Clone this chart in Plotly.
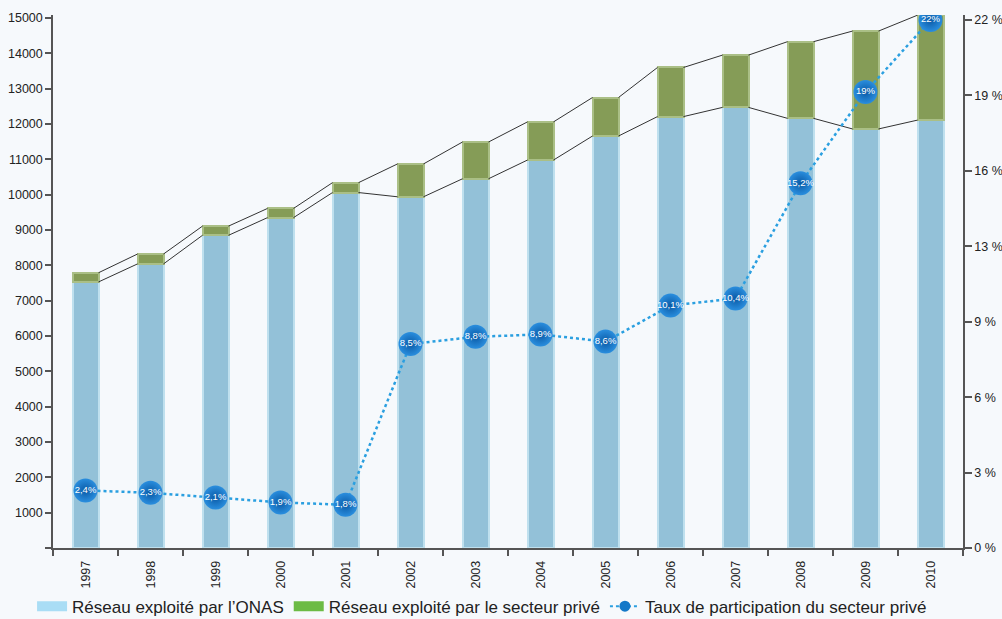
import plotly.graph_objects as go

years = ["1997", "1998", "1999", "2000", "2001", "2002", "2003", "2004",
         "2005", "2006", "2007", "2008", "2009", "2010"]
onas = [7530, 8040, 8850, 9350, 10060, 9940, 10450, 10980, 11660, 12210,
        12470, 12160, 11860, 12110]
prive = [260, 280, 260, 260, 280, 930, 1040, 1080, 1090, 1390, 1480, 2170,
         2770, 2970]
rates = [2.4, 2.3, 2.1, 1.9, 1.8, 8.5, 8.8, 8.9, 8.6, 10.1, 10.4, 15.2, 19, 22]
left_ticks = list(range(0, 15001, 1000))
right_max = 22
right_nticks = 7

name_onas = "Réseau exploité par l\u2019ONAS"
name_prive = "Réseau exploité par le secteur privé"
name_taux = "Taux de participation du secteur privé"

FONT = "Liberation Sans"
BAR_W = 0.4
xs = list(range(len(years)))
totals = [a + b for a, b in zip(onas, prive)]
rate_labels = [f"{r:g}".replace(".", ",") + "%" for r in rates]

def connector(vals):
    cx, cy = [], []
    for i in range(len(vals) - 1):
        cx += [xs[i] + BAR_W / 2, xs[i + 1] - BAR_W / 2, None]
        cy += [vals[i], vals[i + 1], None]
    return cx, cy

fig = go.Figure()

# legend-only entries
fig.add_trace(go.Scatter(x=[None], y=[None], mode="lines", name=name_onas,
                         line=dict(color="#a9ddf5", width=14)))
fig.add_trace(go.Scatter(x=[None], y=[None], mode="lines", name=name_prive,
                         line=dict(color="#6cbb45", width=14)))
fig.add_trace(go.Scatter(x=[None], y=[None], mode="lines+markers", name=name_taux,
                         line=dict(color="#2a9fe0", width=2, dash="dot"),
                         marker=dict(color="#1478c8", size=11)))

fig.add_trace(go.Bar(x=xs, y=onas, width=BAR_W, showlegend=False, name=name_onas,
                     marker=dict(color="#93c1d8", line=dict(color="#bfe0ee", width=2))))
fig.add_trace(go.Bar(x=xs, y=prive, width=BAR_W, showlegend=False, name=name_prive,
                     marker=dict(color="#859c57", line=dict(color="#aabf86", width=2))))

cx, cy = connector(totals)
fig.add_trace(go.Scatter(x=cx, y=cy, mode="lines", showlegend=False,
                         line=dict(color="#333333", width=1), hoverinfo="skip"))
cx, cy = connector(onas)
fig.add_trace(go.Scatter(x=cx, y=cy, mode="lines", showlegend=False,
                         line=dict(color="#333333", width=1), hoverinfo="skip"))

fig.add_trace(go.Scatter(x=xs, y=rates, yaxis="y2", mode="lines+markers+text",
                         showlegend=False, name=name_taux,
                         text=rate_labels, textposition="middle center",
                         textfont=dict(family=FONT, size=9.5, color="white"),
                         line=dict(color="#2a9fe0", width=2.5, dash="dot"),
                         marker=dict(color="#2a8ede", size=24,
                                     gradient=dict(type="radial", color="#0a5aa6"),
                                     line=dict(width=0))))

r_vals = [right_max * k / right_nticks for k in range(right_nticks + 1)]
r_text = [f"{round(v)} %" for v in r_vals]
l_text = ["" if v == 0 else str(v) for v in left_ticks]

fig.update_layout(
    width=1002, height=619,
    margin=dict(l=53, r=39, t=15, b=71),
    paper_bgcolor="#f6f9fc", plot_bgcolor="rgba(0,0,0,0)",
    barmode="stack", bargap=0,
    font=dict(family=FONT, size=12.5, color="#222222"),
    xaxis=dict(range=[-0.5, len(years) - 0.5], tickmode="array", tickvals=xs,
               ticktext=years, tickangle=-90, ticks="", showgrid=False,
               zeroline=False, showline=True, linecolor="#555555", linewidth=1.5,
               automargin=False, ticklabelstandoff=6,
               tickfont=dict(size=12.5, color="#222222"),
               minor=dict(tick0=-0.5, dtick=1, ticks="outside", ticklen=6,
                          tickcolor="#555555", tickwidth=1.5, showgrid=False)),
    yaxis=dict(range=[0, 15085], tickmode="array", tickvals=left_ticks,
               ticktext=l_text, ticks="outside", ticklen=6, tickcolor="#555555",
               tickwidth=1.5, showgrid=False, zeroline=False, showline=True,
               linecolor="#555555", linewidth=1.5, automargin=False,
               tickfont=dict(size=12.5, color="#222222")),
    yaxis2=dict(range=[0, 22.21], overlaying="y", side="right", tickmode="array",
                tickvals=r_vals, ticktext=r_text, ticks="outside", ticklen=7,
                tickcolor="#555555", tickwidth=1.5, showgrid=False,
                zeroline=False, showline=True, linecolor="#555555", linewidth=1.5,
                automargin=False,
                tickfont=dict(size=12.5, color="#222222")),
    legend=dict(orientation="h", xref="container", yref="container",
                x=0.032, y=0.02, xanchor="left", yanchor="middle",
                traceorder="normal",
                font=dict(size=17, color="#222222"), bgcolor="rgba(0,0,0,0)",
                itemwidth=30),
)

fig.write_html("out.html", config={"displayModeBar": False},
               post_script="document.body.style.margin='0';")
